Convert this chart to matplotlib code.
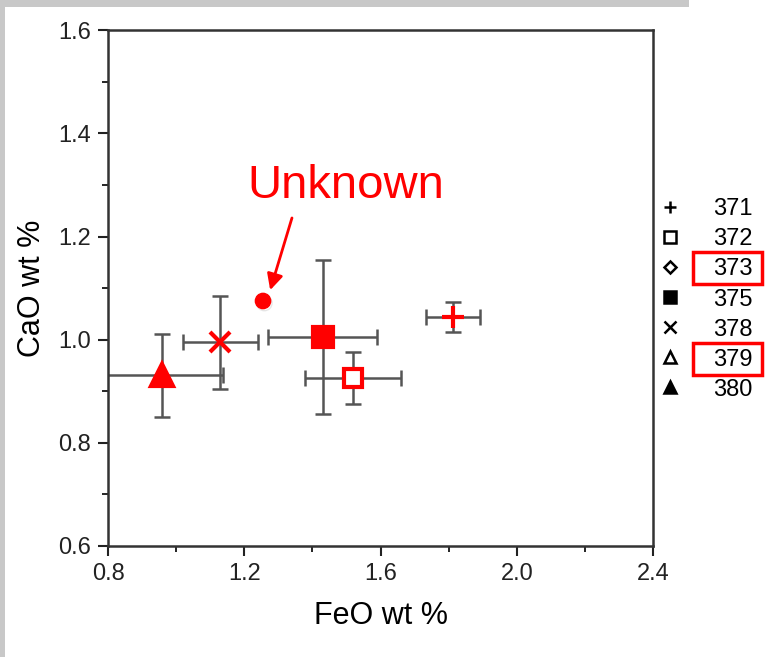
import matplotlib
matplotlib.use('Agg')
import matplotlib.pyplot as plt
import matplotlib.patheffects as pe
from matplotlib.lines import Line2D
from matplotlib.patches import Rectangle

plt.rcParams['font.family'] = ['Liberation Sans', 'DejaVu Sans']

# sample data
samples = ['380', '378', '375', '372', '371']
feo = [0.958, 1.129, 1.431, 1.519, 1.813]
feo_err = [0.18, 0.11, 0.16, 0.14, 0.08]
cao = [0.931, 0.995, 1.005, 0.926, 1.044]
cao_err = [0.08, 0.09, 0.15, 0.05, 0.03]
markers = ['^', 'x', 's', 's', '+']
filled = [True, False, True, False, False]
msizes = [16, 15, 14, 13, 16]

unknown_feo = 1.255
unknown_cao = 1.075

legend_labels = ['371', '372', '373', '375', '378', '379', '380']
legend_markers = ['+', 's', 'D', 's', 'x', '^', '^']
legend_filled = [False, False, False, True, False, False, True]
boxed = ['373', '379']

fig = plt.figure(figsize=(7.7, 6.57), dpi=100)
ax = fig.add_axes([0.1403, 0.169, 0.7078, 0.785])

# Step 1: error bars
for i in range(len(samples)):
    ax.errorbar(feo[i], cao[i], xerr=feo_err[i], yerr=cao_err[i], fmt='none',
                ecolor='#555555', elinewidth=1.8, capsize=6, capthick=1.8, zorder=2)

# Step 2: the markers in red
for i in range(len(samples)):
    face = 'red' if filled[i] else 'white'
    if markers[i] in ('x', '+'):
        face = 'red'
    ax.plot(feo[i], cao[i], linestyle='none', marker=markers[i], ms=msizes[i],
            mfc=face, mec='red', mew=3, zorder=3)

# the unknown sample
ax.plot(unknown_feo, unknown_cao, 'o', color='red', ms=11, zorder=4,
        path_effects=[pe.SimpleLineShadow(offset=(1, -1.5), alpha=0.2, shadow_color='gray'),
                      pe.Normal()])
ax.text(1.499, 1.274, 'Unknown', ha='center', va='baseline', fontsize=34, color='red')
ax.annotate('', xy=(1.276, 1.096), xytext=(1.340, 1.236),
            arrowprops=dict(arrowstyle='-|>', color='red', lw=2, mutation_scale=24,
                            shrinkA=0, shrinkB=0))

# Step 3: axes
ax.set_xlim(0.8, 2.4)
ax.set_ylim(0.6, 1.6)
ax.set_xticks([0.8, 1.2, 1.6, 2.0, 2.4])
ax.set_xticks([1.0, 1.4, 1.8, 2.2], minor=True)
ax.set_yticks([0.6, 0.8, 1.0, 1.2, 1.4, 1.6])
ax.set_yticks([0.7, 0.9, 1.1, 1.3, 1.5], minor=True)
ax.set_xticklabels(['0.8', '1.2', '1.6', '2.0', '2.4'])
ax.set_yticklabels(['0.6', '0.8', '1.0', '1.2', '1.4', '1.6'])
ax.tick_params(which='major', length=7, width=1.5, labelsize=17, colors='#222222', pad=5)
ax.tick_params(which='minor', length=4, width=1.2)
for s in ax.spines.values():
    s.set_linewidth(1.8)
    s.set_color('#333333')
ax.set_xlabel('FeO wt %', fontsize=22, labelpad=12)
ax.set_ylabel('CaO wt %', fontsize=22, labelpad=8)

# Step 4: legend on the right
handles = []
for m, f in zip(legend_markers, legend_filled):
    handles.append(Line2D([], [], linestyle='none', marker=m, color='black',
                          mfc='black' if f else 'white', mec='black',
                          ms=6 if m == 'D' else 8, mew=1.8))
leg = ax.legend(handles, legend_labels, loc='upper left', bbox_to_anchor=(1.0, 0.683),
                frameon=False, fontsize=17, labelspacing=0.34, handletextpad=1.35,
                handlelength=1.0, borderaxespad=0.0, borderpad=0.2)

fig.canvas.draw()
inv = fig.transFigure.inverted()
for t in leg.get_texts():
    if t.get_text() in boxed:
        bb = t.get_window_extent()
        (x0, y0), (x1, y1) = inv.transform([(bb.x0 - 20, bb.y0 - 4), (bb.x1 + 9, bb.y1 + 6)])
        fig.add_artist(Rectangle((x0, y0), x1 - x0, y1 - y0, transform=fig.transFigure,
                                 fill=False, edgecolor='red', lw=2.5))

# gray scan border of the original picture
fig.add_artist(Rectangle((0, 0.989), 0.895, 0.011, transform=fig.transFigure,
                         color='#c8c8c8', lw=0))
fig.add_artist(Rectangle((0, 0), 0.007, 1, transform=fig.transFigure,
                         color='#c8c8c8', lw=0))

plt.savefig('out.png', dpi=100)
